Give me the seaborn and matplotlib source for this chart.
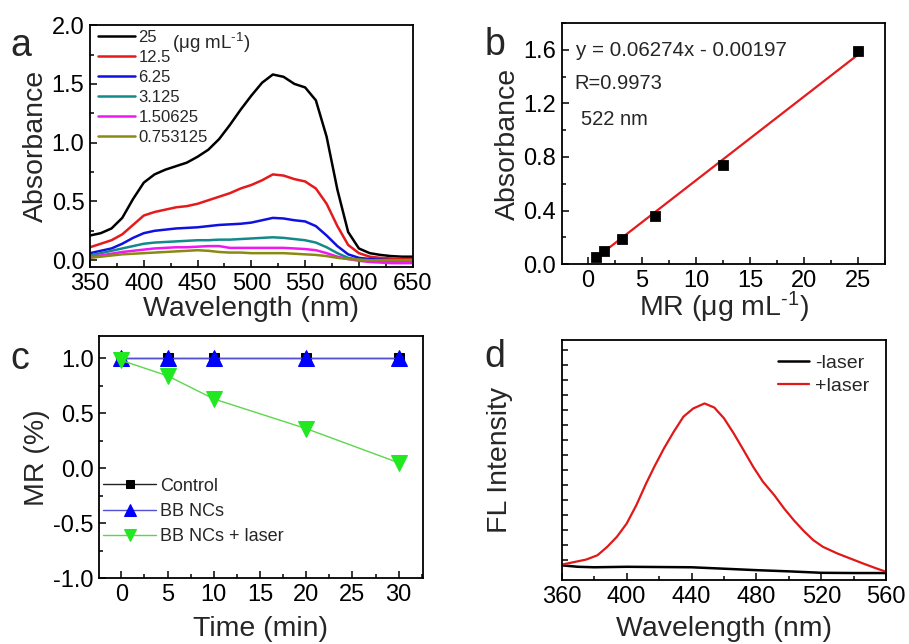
import numpy as np
import pandas as pd
import matplotlib
matplotlib.use("Agg")
import matplotlib.pyplot as plt
from matplotlib.ticker import AutoMinorLocator, MultipleLocator
import seaborn as sns

# ---------------- data ----------------
# (a) UV-vis absorbance spectra of MR at several concentrations
wavelength_a = [350, 360, 370, 380, 390, 400, 410, 420, 430, 440, 450, 460, 470, 480, 490,
                500, 510, 520, 530, 540, 550, 560, 570, 580, 590, 600, 610, 620, 630, 640, 650]
abs_25 = [0.21, 0.23, 0.27, 0.36, 0.52, 0.66, 0.73, 0.77, 0.80, 0.83, 0.88, 0.94, 1.03, 1.15, 1.28,
          1.40, 1.51, 1.58, 1.56, 1.50, 1.47, 1.36, 1.05, 0.60, 0.24, 0.10, 0.06, 0.045, 0.035, 0.03, 0.03]
abs_12_5 = [0.11, 0.14, 0.17, 0.22, 0.30, 0.38, 0.41, 0.43, 0.45, 0.46, 0.48, 0.51, 0.54, 0.57, 0.61,
            0.64, 0.68, 0.73, 0.72, 0.69, 0.67, 0.61, 0.48, 0.29, 0.13, 0.06, 0.03, 0.02, 0.015, 0.01, 0.01]
abs_6_25 = [0.06, 0.08, 0.10, 0.14, 0.19, 0.23, 0.25, 0.26, 0.27, 0.275, 0.28, 0.29, 0.30, 0.305, 0.31,
            0.32, 0.34, 0.36, 0.355, 0.34, 0.33, 0.29, 0.21, 0.12, 0.05, 0.02, 0.01, 0.005, 0.0, 0.0, 0.0]
abs_3_125 = [0.04, 0.06, 0.08, 0.10, 0.12, 0.14, 0.15, 0.155, 0.16, 0.165, 0.17, 0.17, 0.175, 0.175, 0.18,
             0.185, 0.19, 0.195, 0.19, 0.18, 0.17, 0.15, 0.11, 0.06, 0.02, 0.005, -0.005, -0.01, -0.01, -0.01, -0.01]
abs_1_50625 = [0.03, 0.04, 0.055, 0.07, 0.08, 0.09, 0.10, 0.105, 0.11, 0.11, 0.115, 0.12, 0.12, 0.105, 0.105,
               0.105, 0.105, 0.105, 0.105, 0.10, 0.095, 0.085, 0.06, 0.03, 0.01, -0.005, -0.015, -0.02, -0.025, -0.025, -0.025]
abs_0_753125 = [0.02, 0.03, 0.04, 0.05, 0.055, 0.06, 0.065, 0.07, 0.075, 0.08, 0.085, 0.08, 0.07, 0.065, 0.065,
                0.06, 0.06, 0.06, 0.06, 0.055, 0.05, 0.045, 0.035, 0.02, 0.01, 0.005, 0.0, 0.0, 0.0, 0.0, 0.0]
conc_labels = ["25", "12.5", "6.25", "3.125", "1.50625", "0.753125"]
conc_colors = ["#000000", "#e41a1c", "#1010e0", "#138a8a", "#f018f0", "#8a8a10"]

# (b) calibration at 522 nm
mr_conc = [0.753125, 1.50625, 3.125, 6.25, 12.5, 25]
abs_522 = [0.055, 0.10, 0.19, 0.36, 0.74, 1.59]
fit_slope = 0.06274
fit_intercept = -0.00197
fit_r = 0.9973

# (c) MR degradation over time
time_min = [0, 5, 10, 20, 30]
mr_control = [1.0, 1.0, 1.0, 1.0, 1.0]
mr_bb = [1.0, 1.0, 1.0, 1.0, 1.0]
mr_bb_laser = [0.98, 0.84, 0.63, 0.36, 0.05]

# (d) fluorescence spectra (arbitrary units)
wavelength_plus = [360, 375, 382, 388, 394, 400, 406, 412, 417, 423, 429, 435, 441, 448, 454, 460,
                   466, 472, 478, 484, 491, 497, 503, 509, 515, 521, 530, 538, 546, 554, 560]
fl_plus = [0.065, 0.086, 0.104, 0.139, 0.181, 0.236, 0.313, 0.403, 0.472, 0.549, 0.618, 0.681, 0.715,
           0.736, 0.719, 0.674, 0.611, 0.542, 0.472, 0.410, 0.354, 0.299, 0.250, 0.206, 0.167, 0.139,
           0.111, 0.090, 0.069, 0.049, 0.035]
wavelength_minus = [360, 370, 380, 400, 420, 440, 460, 480, 500, 520, 540, 560]
fl_minus = [0.062, 0.056, 0.054, 0.056, 0.055, 0.054, 0.048, 0.042, 0.037, 0.031, 0.030, 0.030]

# ---------------- style ----------------
sns.set_theme(style="ticks")
plt.rcParams["font.family"] = ["Liberation Sans", "DejaVu Sans"]
plt.rcParams["mathtext.fontset"] = "custom"
plt.rcParams["mathtext.rm"] = "Liberation Sans"
plt.rcParams["mathtext.it"] = "Liberation Sans:italic"
plt.rcParams["axes.linewidth"] = 1.3
plt.rcParams["axes.edgecolor"] = "black"
plt.rcParams["axes.unicode_minus"] = False

TICK = 17
LABEL = 20.5
UNIT = r"μg mL$^{\text{-}1}$"


def style_axes(ax):
    ax.tick_params(which="both", direction="in", top=False, right=False,
                   labelsize=TICK, colors="black", width=1.1, pad=4)
    ax.tick_params(which="major", length=5)
    ax.tick_params(which="minor", length=3)
    for s in ax.spines.values():
        s.set_visible(True)
        s.set_color("black")


fig = plt.figure(figsize=(9.09, 6.44), dpi=100)
ax_a = fig.add_axes([0.099, 0.585, 0.355, 0.376])
ax_b = fig.add_axes([0.618, 0.590, 0.356, 0.374])
ax_c = fig.add_axes([0.109, 0.102, 0.356, 0.376])
ax_d = fig.add_axes([0.618, 0.099, 0.357, 0.373])

# ---- (a) ----
spectra = [abs_25, abs_12_5, abs_6_25, abs_3_125, abs_1_50625, abs_0_753125]
for lab, col, vals in zip(conc_labels, conc_colors, spectra):
    sns.lineplot(x=wavelength_a, y=vals, color=col, lw=1.8, label=lab, ax=ax_a)
ax_a.set_xlim(350, 650)
ax_a.set_ylim(-0.06, 2.0)
ax_a.xaxis.set_major_locator(MultipleLocator(50))
ax_a.xaxis.set_minor_locator(AutoMinorLocator(2))
ax_a.yaxis.set_major_locator(MultipleLocator(0.5))
ax_a.yaxis.set_minor_locator(AutoMinorLocator(2))
ax_a.set_xlabel("Wavelength (nm)", fontsize=LABEL, labelpad=1)
ax_a.set_ylabel("Absorbance", fontsize=LABEL, labelpad=2)
ax_a.legend(loc="upper left", bbox_to_anchor=(-0.005, 1.02), frameon=False, fontsize=12,
            handlelength=2.2, handletextpad=0.2, labelspacing=0.3, borderaxespad=0.2)
ax_a.text(0.255, 0.925, "(" + UNIT + ")", transform=ax_a.transAxes, fontsize=13.5,
          ha="left", va="center")
style_axes(ax_a)

# ---- (b) ----
fit_x = [mr_conc[0], mr_conc[-1]]
fit_y = [fit_slope * v + fit_intercept for v in fit_x]
sns.lineplot(x=fit_x, y=fit_y, color="#e41a1c", lw=1.6, ax=ax_b)
sns.scatterplot(x=mr_conc, y=abs_522, marker="s", s=50, color="black", edgecolor="black",
                zorder=3, ax=ax_b)
ax_b.set_xlim(-2.4, 27.5)
ax_b.set_ylim(0.0, 1.8)
ax_b.xaxis.set_major_locator(MultipleLocator(5))
ax_b.xaxis.set_minor_locator(AutoMinorLocator(2))
ax_b.yaxis.set_major_locator(MultipleLocator(0.4))
ax_b.yaxis.set_minor_locator(AutoMinorLocator(2))
ax_b.set_xlabel("MR (" + UNIT + ")", fontsize=LABEL, labelpad=-1)
ax_b.set_ylabel("Absorbance", fontsize=LABEL, labelpad=2)
ax_b.text(0.045, 0.885, f"y = {fit_slope:.5f}x - {abs(fit_intercept):.5f}", transform=ax_b.transAxes,
          fontsize=14.8, ha="left", va="center")
ax_b.text(0.04, 0.75, f"R={fit_r}", transform=ax_b.transAxes, fontsize=14.5, ha="left", va="center")
ax_b.text(0.06, 0.60, "522 nm", transform=ax_b.transAxes, fontsize=14.5, ha="left", va="center")
style_axes(ax_b)

# ---- (c) ----
sns.lineplot(x=time_min, y=mr_control, color="#222222", lw=1.0, marker="s", markersize=7,
             markeredgecolor="black", markerfacecolor="black", label="Control", ax=ax_c)
sns.lineplot(x=time_min, y=mr_bb, color="#5050d0", lw=1.0, marker="^", markersize=11,
             markeredgecolor="#0000ff", markerfacecolor="#0000ff", label="BB NCs", ax=ax_c)
sns.lineplot(x=time_min, y=mr_bb_laser, color="#5ad84a", lw=1.0, marker="v", markersize=11,
             markeredgecolor="#22e822", markerfacecolor="#22e822", label="BB NCs + laser", ax=ax_c)
ax_c.set_xlim(-2.4, 32.6)
ax_c.set_ylim(-1.0, 1.2)
ax_c.xaxis.set_major_locator(MultipleLocator(5))
ax_c.xaxis.set_minor_locator(AutoMinorLocator(2))
ax_c.yaxis.set_major_locator(MultipleLocator(0.5))
ax_c.yaxis.set_minor_locator(AutoMinorLocator(2))
ax_c.set_xlabel("Time (min)", fontsize=LABEL, labelpad=7)
ax_c.set_ylabel("MR (%)", fontsize=LABEL, labelpad=2)
ax_c.legend(loc="upper left", bbox_to_anchor=(-0.02, 0.46), frameon=False, fontsize=13,
            handlelength=2.9, handletextpad=0.25, labelspacing=0.45, borderaxespad=0.2,
            markerscale=0.8)
style_axes(ax_c)

# ---- (d) ----
sns.lineplot(x=wavelength_minus, y=fl_minus, color="black", lw=1.8, label="-laser", ax=ax_d)
sns.lineplot(x=wavelength_plus, y=fl_plus, color="#e01818", lw=1.6, label="+laser", ax=ax_d)
ax_d.set_xlim(360, 560)
ax_d.set_ylim(0.0, 1.0)
ax_d.xaxis.set_major_locator(MultipleLocator(40))
ax_d.xaxis.set_minor_locator(AutoMinorLocator(2))
ax_d.set_yticks(list(np.arange(0.085, 0.97, 0.0625)))
ax_d.set_yticklabels([])
ax_d.set_xlabel("Wavelength (nm)", fontsize=LABEL, labelpad=6)
ax_d.set_ylabel("FL Intensity", fontsize=LABEL)
ax_d.yaxis.set_label_coords(-0.15, 0.5)
ax_d.legend(loc="upper right", bbox_to_anchor=(0.985, 0.99), frameon=False, fontsize=14,
            handlelength=1.6, handletextpad=0.35, labelspacing=0.3, borderaxespad=0.2)
style_axes(ax_d)
ax_d.tick_params(axis="y", which="major", length=4)

# panel letters
for lab, (x, y) in zip("abcd", [(0.011, 0.928), (0.533, 0.930), (0.011, 0.443), (0.533, 0.445)]):
    fig.text(x, y, lab, fontsize=27, ha="left", va="center")

fig.savefig("out.png", dpi=100)
